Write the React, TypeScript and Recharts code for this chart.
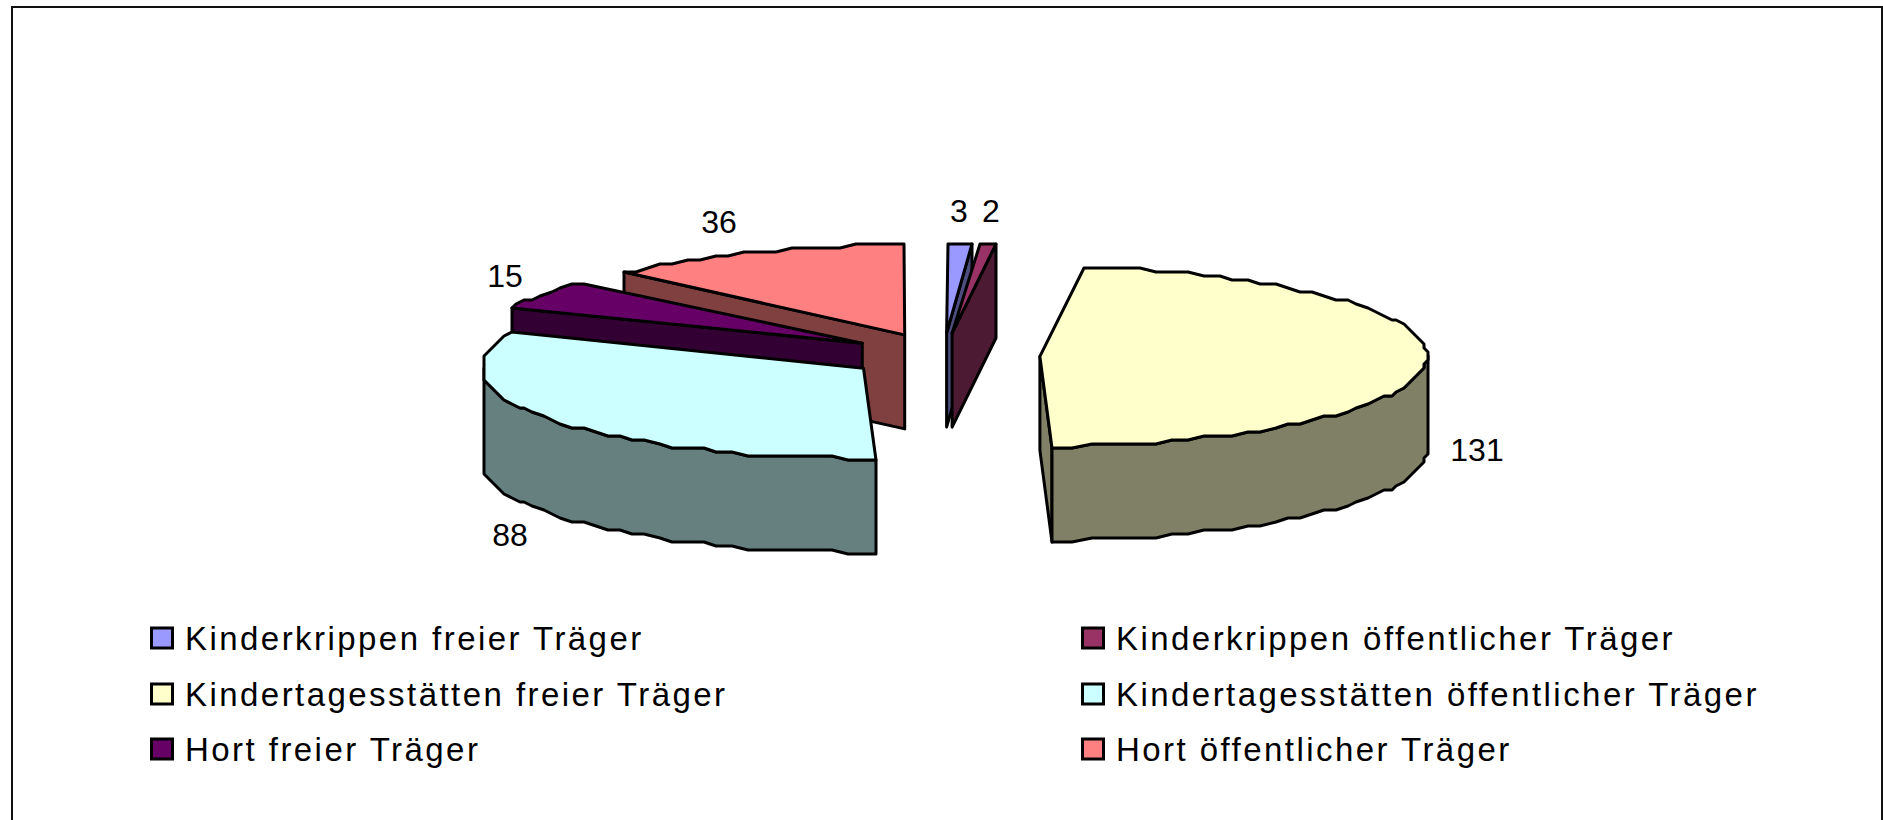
import React from 'react';
import { PieChart, Pie, Legend } from 'recharts';

const categories = [
  'Kinderkrippen freier Träger',
  'Kinderkrippen öffentlicher Träger',
  'Kindertagesstätten freier Träger',
  'Kindertagesstätten öffentlicher Träger',
  'Hort freier Träger',
  'Hort öffentlicher Träger',
];
const values = [3, 2, 131, 88, 15, 36];
const topColors = ['#9999FF', '#993366', '#FFFFCC', '#CCFFFF', '#660066', '#FF8080'];
const sideColors = ['#4D4D80', '#4D1A33', '#808066', '#668080', '#330033', '#804040'];
// label offsets from the rim point at each slice's middle
const labelNudges = [[-1, -33], [3, -33], [49, 90], [-38, 115], [-39, -20], [-33, -30]];

const W = 1883;
const H = 820;
const TILT = 0.2327;
const EXPLODE = 0.25;
const DEPTH = 94;
const GRID = 4;
const STEP = 2.5;
const LEFT_SQUEEZE = 0.985;
const FONT = '"Liberation Sans", Arial, sans-serif';

// Drawn back to front: the first slice goes first, then counter-clockwise from 12 o'clock
const total = values.reduce((s, v) => s + v, 0);
const order = [0, 5, 4, 3, 2, 1];
const pieData = order.map((i) => ({
  name: categories[i], value: values[i], fill: topColors[i], side: sideColors[i], nudge: labelNudges[i],
}));
const firstSweep = (360 * values[0]) / total;

const rad = (d: number) => (d * Math.PI) / 180;
const snap = (v: number) => Math.round(v / GRID) * GRID;

function apexOf(cx: number, cy: number, r: number, mid: number) {
  return [cx + EXPLODE * r * Math.sin(rad(mid)), cy - EXPLODE * r * TILT * Math.cos(rad(mid))];
}
function rimPoint(ax: number, ay: number, r: number, a: number) {
  const s = Math.sin(rad(a));
  return [snap(ax + r * s * (s < 0 ? LEFT_SQUEEZE : 1)), snap(ay - r * TILT * Math.cos(rad(a)))];
}
// Rim samples sit on fixed angle multiples, so a top face and its wall share the same outline
function rim(ax: number, ay: number, r: number, a: number, b: number) {
  const angles = [a];
  for (let k = Math.floor(a / STEP) + 1; k * STEP < b; k++) angles.push(k * STEP);
  angles.push(b);
  return angles.map((t) => rimPoint(ax, ay, r, t));
}
const toPath = (pts: number[][]) => 'M' + pts.map((p) => `${p[0].toFixed(1)},${p[1].toFixed(1)}`).join('L') + 'Z';

function Slice3D(props: any) {
  const { cx, cy, outerRadius: r, startAngle, endAngle } = props;
  const fill = props.fill ?? props.payload?.fill;
  const side = props.side ?? props.payload?.side;
  const a0 = 90 - Math.max(startAngle, endAngle) + 720;
  const a1 = 90 - Math.min(startAngle, endAngle) + 720;
  const start = ((a0 + 1e-6) % 360) - 1e-6;
  const end = start + (a1 - a0);
  const mid = (start + end) / 2;
  const [ax, ay] = apexOf(cx, cy, r, mid);
  const stroke = { stroke: '#000', strokeWidth: 3, strokeLinejoin: 'round' as const };
  const faces: React.ReactNode[] = [];
  const cut = (ang: number, key: string) => {
    const p = rimPoint(ax, ay, r, ang);
    faces.push(
      <path key={key} d={toPath([[ax, ay], p, [p[0], p[1] + DEPTH], [ax, ay + DEPTH]])} fill={side} {...stroke} />,
    );
  };
  if (Math.sin(rad(start)) < -0.001) cut(start, 'cs');
  if (Math.sin(rad(end)) > 0.001) cut(end, 'ce');
  const w0 = Math.max(start, 90);
  const w1 = Math.min(end, 270);
  if (w1 > w0) {
    const top = rim(ax, ay, r, w0, w1);
    const bottom = top.map((p) => [p[0], p[1] + DEPTH]).reverse();
    faces.push(<path key="w" d={toPath([...top, ...bottom])} fill={side} {...stroke} />);
  }
  return (
    <g>
      {faces}
      <path d={toPath([[ax, ay], ...rim(ax, ay, r, start, end)])} fill={fill} {...stroke} />
    </g>
  );
}

function ValueLabel(props: any) {
  const { cx, cy, outerRadius: r, midAngle, value, payload } = props;
  const mid = 90 - midAngle;
  const [ax, ay] = apexOf(cx, cy, r, mid);
  const [px, py] = rimPoint(ax, ay, r, mid);
  const nudge = payload?.nudge ?? props.nudge ?? [0, 0];
  return (
    <text x={px + nudge[0]} y={py + nudge[1]} textAnchor="middle" dominantBaseline="central"
      fontFamily={FONT} fontSize={32} fill="#000">
      {value}
    </text>
  );
}

const legendCols = [[0, 2, 4], [1, 3, 5]];
const colX = [150, 1081];
const rowY = [638, 694, 749];

function LegendBlock() {
  return (
    <svg width={W} height={H} style={{ display: 'block' }}>
      {legendCols.map((col, c) =>
        col.map((idx, r) => (
          <g key={idx}>
            <rect x={colX[c] + 1.5} y={rowY[r] - 10} width={21} height={20} fill={topColors[idx]} stroke="#000" strokeWidth={3} />
            <text x={colX[c] + 35} y={rowY[r]} dominantBaseline="central" fontFamily={FONT} fontSize={33} letterSpacing={2.45} fill="#000">
              {categories[idx]}
            </text>
          </g>
        )),
      )}
    </svg>
  );
}

export default function App() {
  return (
    <div style={{ position: 'absolute', left: 0, top: 0, width: W, height: H, overflow: 'hidden', background: '#fff' }}>
      <div style={{ position: 'absolute', left: 11, top: 6, width: W, height: H + 40, border: '2px solid #111', borderBottom: 'none', boxSizing: 'border-box' }} />
      <div style={{ position: 'absolute', left: W - 2, top: 6, width: 2, height: H, background: '#111' }} />
      <PieChart width={W} height={H} margin={{ top: 0, right: 0, bottom: 0, left: 0 }} style={{ position: 'absolute', left: 0, top: 0 }}>
        <Pie
          data={pieData}
          dataKey="value"
          nameKey="name"
          cx={943.3}
          cy={355.5}
          outerRadius={386.7}
          innerRadius={0}
          startAngle={90 - firstSweep}
          endAngle={450 - firstSweep}
          stroke="none"
          isAnimationActive={false}
          shape={Slice3D}
          label={ValueLabel}
          labelLine={false}
        />
        <Legend content={LegendBlock} wrapperStyle={{ left: 0, top: 0, bottom: 'auto', width: W, height: H, pointerEvents: 'none' }} />
      </PieChart>
    </div>
  );
}
